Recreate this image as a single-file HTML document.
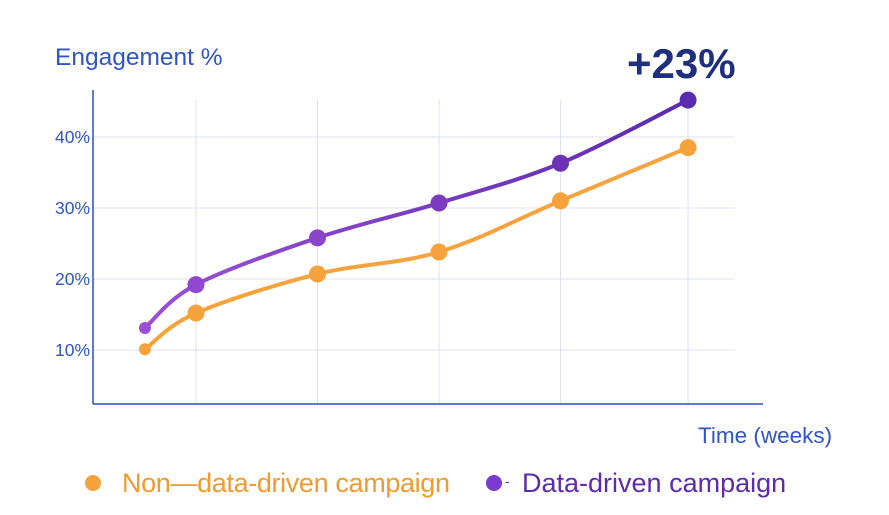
<!DOCTYPE html>
<html><head><meta charset="utf-8"><style>
body{margin:0;background:#fff;}
svg{display:block;font-family:"Liberation Sans",sans-serif;}
</style></head><body>
<svg id="chart" width="889" height="515" viewBox="0 0 889 515">
<defs>
<linearGradient id="pg" x1="145" y1="0" x2="688" y2="0" gradientUnits="userSpaceOnUse">
<stop offset="0" stop-color="#9B4FD6"/><stop offset="1" stop-color="#5A2BAE"/></linearGradient>
<linearGradient id="og" x1="145" y1="0" x2="688" y2="0" gradientUnits="userSpaceOnUse">
<stop offset="0" stop-color="#F8A23A"/><stop offset="1" stop-color="#F6A441"/></linearGradient>
</defs>
<g id="grid"></g>
<line x1="93" y1="90" x2="93" y2="404" stroke="#2B4FC4" stroke-width="1.5"/>
<line x1="93" y1="404" x2="763" y2="404" stroke="#2B4FC4" stroke-width="1.5"/>
<text x="55" y="65" font-size="24.5" fill="#2F55C8">Engagement %</text>
<text x="698" y="443" font-size="22.5" fill="#2F55C8">Time (weeks)</text>
<text x="627" y="78" font-size="42" font-weight="bold" fill="#1F2F80">+23%</text>
<g id="ticks"></g>
<g id="series"></g>
<circle cx="93" cy="483" r="8" fill="#F7A23B"/>
<text x="122" y="492" font-size="27" textLength="328" fill="#F29A2E">Non—data-driven campaign</text>
<circle cx="494" cy="483" r="8" fill="#7B3BD0"/>
<text x="505" y="486" font-size="14" fill="#6A2BB8">-</text>
<text x="522" y="492" font-size="27" fill="#5E2AAE">Data-driven campaign</text>
</svg>
<script>
const weeks=[0.58,1,2,3,4,5.05];
const nonDataDriven=[10.1,15.2,20.7,23.8,31.0,38.5];
const dataDriven=[13.1,19.2,25.8,30.7,36.3,45.2];
const yTicks=[10,20,30,40];
const yTickLabels=["10%","20%","30%","40%"];
const gridWeeks=[1,2,3,4,5.05];
const NS="http://www.w3.org/2000/svg";
const xs=w=>196+121.5*(w-1);
const ys=v=>421-7.1*v;
function mk(tag,attrs,parent){const e=document.createElementNS(NS,tag);for(const k in attrs)e.setAttribute(k,attrs[k]);parent.appendChild(e);return e;}
const grid=document.getElementById('grid'),ticks=document.getElementById('ticks'),series=document.getElementById('series');
gridWeeks.forEach(w=>{const l=mk('line',{x1:xs(w),x2:xs(w),y1:100,y2:404,stroke:'#DCE2F4','stroke-width':1},grid);

});
yTicks.forEach((v,i)=>{const l=mk('line',{x1:93,x2:735,y1:ys(v),y2:ys(v),stroke:'#DCE2F4','stroke-width':1},grid);


const t=mk('text',{x:55,y:ys(v)+6,'font-size':17.5,fill:'#2F55C8'},ticks);t.textContent=yTickLabels[i];

});
function path(vals){const p=weeks.map((w,i)=>[xs(w),ys(vals[i])]);let d=`M${p[0][0]},${p[0][1]}`;
for(let i=0;i<p.length-1;i++){const p0=p[i-1]||p[i],p1=p[i],p2=p[i+1],p3=p[i+2]||p2;
d+=` C${p1[0]+(p2[0]-p0[0])/6},${p1[1]+(p2[1]-p0[1])/6} ${p2[0]-(p3[0]-p1[0])/6},${p2[1]-(p3[1]-p1[1])/6} ${p2[0]},${p2[1]}`;}return d;}
function draw(vals,stroke,fills,name){const pa=mk('path',{d:path(vals),fill:'none',stroke:stroke,'stroke-width':4,'stroke-linecap':'round'},series);


vals.forEach((v,i)=>{const c=mk('circle',{cx:xs(weeks[i]),cy:ys(v),r:i==0?6:8.5,fill:fills(i)},series);

});}
draw(nonDataDriven,'url(#og)',()=>'#F7A23B','non-data-driven');
const pc=['#9B4FD6','#9347D0','#8A44C8','#7A3BBE','#6B33B4','#5A2BAE'];
draw(dataDriven,'url(#pg)',i=>pc[i],'data-driven');
</script>
</body></html>
